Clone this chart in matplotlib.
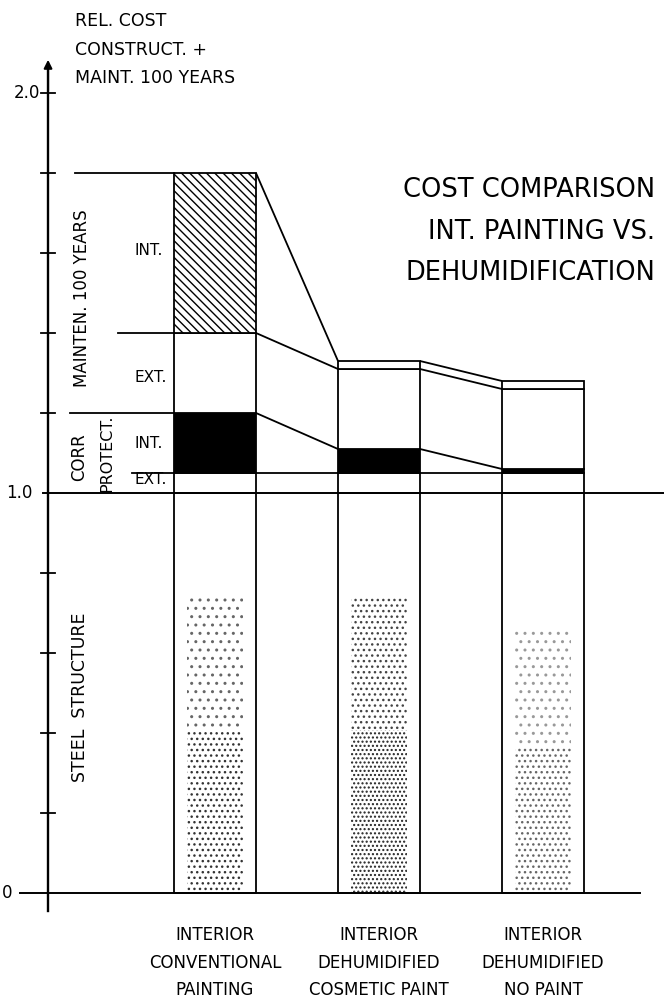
import numpy as np
import matplotlib
matplotlib.use("Agg")
import matplotlib.pyplot as plt

# ---- data ----
categories = ["INTERIOR\nCONVENTIONAL\nPAINTING",
              "INTERIOR\nDEHUMIDIFIED\nCOSMETIC PAINT",
              "INTERIOR\nDEHUMIDIFIED\nNO PAINT"]
steel = [1.00, 1.00, 1.00]
corr_ext = [0.05, 0.05, 0.05]
corr_int = [0.15, 0.06, 0.01]
maint_ext = [0.20, 0.20, 0.20]
maint_int = [0.40, 0.02, 0.02]
y_ticks = [0.0, 0.2, 0.4, 0.6, 0.8, 1.0, 1.2, 1.4, 1.6, 1.8, 2.0]
y_ticklabels = {0.0: "0", 1.0: "1.0", 2.0: "2.0"}

plt.rcParams['font.family'] = ['DejaVu Sans']
plt.rcParams['hatch.linewidth'] = 1.0

W, H = 664, 998
fig = plt.figure(figsize=(W / 100, H / 100), dpi=100)
ax = fig.add_axes([0, 0, 1, 1])
ax.set_xlim(-215 / 164, 449 / 164)
ax.set_ylim(-105 / 400, 893 / 400)
ax.axis('off')

x = np.arange(len(categories))
bw = 0.5
lw = 1.3

segments = [steel, corr_ext, corr_int, maint_ext, maint_int]
faces = ['white', 'white', 'black', 'white', 'white']
# hatch per segment, per bar (only the tall interior maintenance block of bar 1)
hatches = [[None] * 3, [None] * 3, [None] * 3, [None] * 3,
           ['\\\\\\\\', None, None]]
bottom = np.zeros(len(x))
tops = []
for seg, fc, hs in zip(segments, faces, hatches):
    vals = np.array(seg)
    for i in range(len(x)):
        ax.bar(x[i], vals[i], bw, bottom=bottom[i], facecolor=fc,
               edgecolor='black', linewidth=lw, hatch=hs[i], zorder=2)
    bottom = bottom + vals
    tops.append(bottom.copy())

# stipple texture in steel part (decorative)
stipple_top = [0.74, 0.74, 0.66]
stipple_hatch_low = ['...', '....', '...']
stipple_hatch_high = ['..', '...', '..']
stipple_col_low = ['#333333', '#222222', '#666666']
stipple_col_high = ['#666666', '#444444', '#999999']
for i in range(len(x)):
    ax.bar(x[i], stipple_top[i] * 0.55, 0.34, bottom=0, facecolor='none',
           edgecolor=stipple_col_low[i], linewidth=0,
           hatch=stipple_hatch_low[i], zorder=3)
    ax.bar(x[i], stipple_top[i] * 0.45, 0.34, bottom=stipple_top[i] * 0.55,
           facecolor='none', edgecolor=stipple_col_high[i], linewidth=0,
           hatch=stipple_hatch_high[i], zorder=3)

# connecting lines between bars
for level in tops[1:]:
    for i in range(len(x) - 1):
        ax.plot([x[i] + bw / 2, x[i + 1] - bw / 2], [level[i], level[i + 1]],
                color='black', lw=lw, zorder=2, solid_capstyle='butt')

# guide lines extending left from bar 1
guide_left = [-0.506, -0.884, -0.591, -0.854]
for lvl, xl in zip(tops[1:], guide_left):
    ax.plot([xl, x[0] - bw / 2], [lvl[0], lvl[0]], color='black', lw=lw, zorder=2)

# full-width lines at 0 and 1.0
ax.plot([-1.189, 2.59], [0, 0], color='black', lw=1.4, zorder=4)
ax.plot([-1.05, 2.74], [1.0, 1.0], color='black', lw=1.4, zorder=4)

# y axis with arrow
xa = -1.018
ax.plot([xa, xa], [-0.045, 2.07], color='black', lw=1.7, zorder=5)
ax.annotate('', xy=(xa, 2.09), xytext=(xa, 2.0),
            arrowprops=dict(arrowstyle='-|>', color='black', lw=1.5,
                            mutation_scale=12), zorder=5)
tick_half = 7 / 164
for t in y_ticks:
    if t in (0.0, 1.0):
        continue
    ax.plot([xa - tick_half, xa + tick_half], [t, t], color='black', lw=1.3, zorder=5)
ax.text(xa - 0.05, 2.0, y_ticklabels[2.0], ha='right', va='center', fontsize=12)
ax.text(xa - 0.095, 1.0, y_ticklabels[1.0], ha='right', va='center', fontsize=12)
ax.text(-1.265, 0.0, y_ticklabels[0.0], ha='center', va='center', fontsize=12)

# axis title
for txt, yp in zip(["REL. COST", "CONSTRUCT. +", "MAINT. 100 YEARS"], [21, 50, 78]):
    ax.text((75 - 215) / 164, (893 - yp) / 400, txt, ha='left', va='center',
            fontsize=12.5)

# chart title
for txt, yp in zip(["COST COMPARISON", "INT. PAINTING VS.", "DEHUMIDIFICATION"],
                   [190, 232, 273]):
    ax.text((655 - 215) / 164, (893 - yp) / 400, txt, ha='right', va='center',
            fontsize=18.5)

# left-side segment labels
def px(xp):
    return (xp - 215) / 164

def py(yp):
    return (893 - yp) / 400

ax.text(px(82), py(298), "MAINTEN. 100 YEARS", rotation=90, ha='center',
        va='center', fontsize=12)
ax.text(px(79), py(457), "CORR", rotation=90, ha='center', va='center', fontsize=12)
ax.text(px(107), py(453), "PROTECT.", rotation=90, ha='center', va='center',
        fontsize=11.5)
ax.text(px(80), py(697), "STEEL  STRUCTURE", rotation=90, ha='center',
        va='center', fontsize=12.5)
for txt, yp in zip(["INT.", "EXT.", "INT.", "EXT."], [250, 377, 443, 480]):
    ax.text(px(135), py(yp), txt, ha='left', va='center', fontsize=11)

# category labels
for i, cat in enumerate(categories):
    for j, line in enumerate(cat.split("\n")):
        ax.text(x[i], py(935 + 27.5 * j), line, ha='center', va='center',
                fontsize=12)

fig.savefig("out.png", dpi=100, facecolor='white')
